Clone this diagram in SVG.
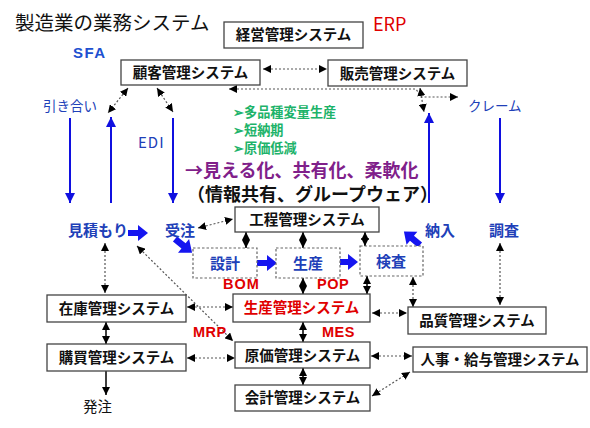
<svg xmlns="http://www.w3.org/2000/svg" width="590" height="428" viewBox="0 0 590 428">
<defs>
<style>
text{font-family:"Noto Sans CJK JP","Noto Sans",sans-serif}
.box{fill:#fff;stroke:#444;stroke-width:1.3}
.dbox{fill:#fff;stroke:#666;stroke-width:1.2;stroke-dasharray:2.5 2}
.bt{font-size:14.5px;font-weight:bold;fill:#111;text-anchor:middle}
.red{fill:#e00000}
.bl{font-size:15px;font-weight:bold;fill:#2040b8}
.lat{font-family:"Liberation Sans",Arial,sans-serif;font-weight:bold}
.dot{fill:none;stroke:#555;stroke-width:1.2;stroke-dasharray:2 2;marker-start:url(#ah);marker-end:url(#ah)}
.sol{fill:none;stroke:#000;stroke-width:1.5;marker-start:url(#ah);marker-end:url(#ah)}
.bv{fill:none;stroke:#1010e0;stroke-width:2;marker-end:url(#bh)}
.blk{fill:#1515f0}
</style>
<marker id="ah" viewBox="0 0 10 10" refX="10" refY="5" markerUnits="userSpaceOnUse" markerWidth="8" markerHeight="8" orient="auto-start-reverse"><path d="M0,0L10,5L0,10z" fill="#000"/></marker>
<marker id="bh" viewBox="0 0 10 10" refX="10" refY="5" markerUnits="userSpaceOnUse" markerWidth="10" markerHeight="10" orient="auto"><path d="M0,0L10,5L0,10z" fill="#1010e0"/></marker>
<path id="barrow" d="M0,-3L10,-3L10,-8L20,0L10,8L10,3L0,3Z"/>
</defs>
<rect width="590" height="428" fill="#fff"/>

<text x="15" y="30" font-size="19.5" fill="#111">製造業の業務システム</text>
<text x="373" y="31" font-size="18" fill="#e00000" font-family="Liberation Sans,Arial,sans-serif">ERP</text>
<text x="73" y="58" font-size="15" fill="#2050d0" class="lat" letter-spacing="1.5">SFA</text>
<text x="138" y="148" font-size="15" fill="#2040b8" font-family="Liberation Sans,Arial,sans-serif" letter-spacing="1">EDI</text>
<text x="43" y="111" font-size="13.5" fill="#2040b8">引き合い</text>
<text x="468" y="111" font-size="13.5" fill="#2040b8">クレーム</text>

<g id="notes" font-weight="bold" fill="#1db36a" font-size="13.2">
<text x="233" y="116.5">➢多品種変量生産</text>
<text x="233" y="135">➢短納期</text>
<text x="233" y="153.3">➢原価低減</text>
</g>
<g id="motto" font-weight="bold" font-size="18">
<text x="185" y="177.3" fill="#80208a">→見える化、共有化、柔軟化</text>
<text x="187" y="200.8" fill="#111">（情報共有、グループウェア）</text>
</g>

<g id="connectors">
<path class="dot" d="M263,69H327"/>
<path class="dot" d="M229,89H416L421,97H458"/>
<path class="dot" d="M420,88L424,112"/>
<path class="dot" d="M128,88L108,113"/>
<path class="dot" d="M157,88L173,112"/>
<path class="dot" d="M198,228L233,219"/>
<path class="sol" d="M246,232V248"/>
<path class="sol" d="M303,232V248"/>
<path class="sol" d="M365,232V246"/>
<path class="sol" d="M303,278V294"/>
<path class="sol" d="M367,276V294"/>
<path class="dot" d="M413,277V307"/>
<path class="dot" d="M372,313H407"/>
<path class="dot" d="M500,243V305"/>
<path class="sol" d="M303,322V342"/>
<path class="sol" d="M303,368V385"/>
<path class="dot" d="M371,356H412"/>
<path class="dot" d="M372,396L410,372"/>
<path class="dot" d="M187,307H233"/>
<path class="dot" d="M187,358H235"/>
<path class="sol" d="M106,322V344"/>
<path class="dot" d="M105,243V293"/>
<path class="dot" d="M137,246L233,341"/>
<path d="M106,371V395" fill="none" stroke="#000" stroke-width="1.5" marker-end="url(#ah)"/>
<path class="bv" d="M70,118V203"/>
<path class="bv" d="M111,203V117"/>
<path class="bv" d="M173,118V203"/>
<path class="bv" d="M429,203V113"/>
<path class="bv" d="M500,118V203"/>
<use href="#barrow" class="blk" transform="translate(128,233)"/>
<use href="#barrow" class="blk" transform="translate(175,239) rotate(39) scale(1.1)"/>
<use href="#barrow" class="blk" transform="translate(257,263)"/>
<use href="#barrow" class="blk" transform="translate(338,262)"/>
<use href="#barrow" class="blk" transform="translate(420,245) rotate(220) scale(1.05)"/>
</g>

<g id="keiei"><rect class="box" x="224" y="22" width="139" height="26"/><text class="bt" x="293.5" y="40">経営管理システム</text></g>
<g id="kokyaku"><rect class="box" x="121" y="60" width="139" height="25"/><text class="bt" x="190.5" y="78">顧客管理システム</text></g>
<g id="hanbai"><rect class="box" x="328" y="60" width="139" height="26"/><text class="bt" x="397.5" y="79">販売管理システム</text></g>
<g id="koutei"><rect class="box" x="235" y="207" width="144" height="25"/><text class="bt" x="307" y="225">工程管理システム</text></g>
<g id="sekkei"><rect class="dbox" x="193" y="248" width="64" height="30"/><text class="bl" x="225" y="269" text-anchor="middle">設計</text></g>
<g id="seisan"><rect class="dbox" x="276" y="248" width="64" height="30"/><text class="bl" x="308" y="269" text-anchor="middle">生産</text></g>
<g id="kensa"><rect class="dbox" x="360" y="246" width="63" height="30"/><text class="bl" x="391" y="267" text-anchor="middle">検査</text></g>
<g id="seisankanri"><rect class="box" x="233" y="294" width="137" height="28"/><text class="bt red" x="301.5" y="313">生産管理システム</text></g>
<g id="zaiko"><rect class="box" x="47" y="295" width="139" height="27"/><text class="bt" x="116.5" y="314">在庫管理システム</text></g>
<g id="koubai"><rect class="box" x="47" y="344" width="139" height="27"/><text class="bt" x="116.5" y="363">購買管理システム</text></g>
<g id="genka"><rect class="box" x="235" y="342" width="135" height="26"/><text class="bt" x="302.5" y="361">原価管理システム</text></g>
<g id="kaikei"><rect class="box" x="235" y="385" width="135" height="26"/><text class="bt" x="302.5" y="403">会計管理システム</text></g>
<g id="hinshitsu"><rect class="box" x="408" y="307" width="138" height="27"/><text class="bt" x="477" y="326">品質管理システム</text></g>
<g id="jinji"><rect class="box" x="413" y="347" width="174" height="25"/><text class="bt" x="500" y="365" font-size="15.5">人事・給与管理システム</text></g>

<g id="labels">
<text class="bl" x="68" y="236">見積もり</text>
<text class="bl" x="165" y="236">受注</text>
<text class="bl" x="425" y="236">納入</text>
<text class="bl" x="489" y="236">調査</text>
<text x="223" y="289" font-size="14.5" class="lat red" letter-spacing="1">BOM</text>
<text x="317" y="289" font-size="14.5" class="lat red" letter-spacing="0.5">POP</text>
<text x="193" y="337" font-size="14.5" class="lat red" letter-spacing="0.5">MRP</text>
<text x="322" y="337" font-size="14.5" class="lat red" letter-spacing="0.5">MES</text>
<text x="83" y="412" font-size="14.5" fill="#111">発注</text>
</g>
</svg>
